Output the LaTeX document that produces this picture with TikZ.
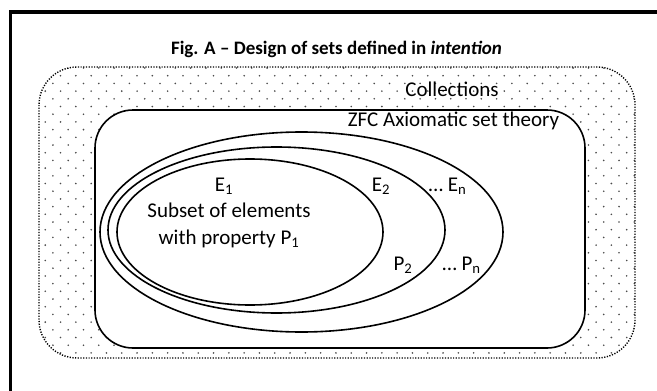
\documentclass[tikz,border=0pt]{standalone}
\usepackage{fontspec}
\setmainfont{Carlito}
\usepackage{tikz}

\begin{document}
\begin{tikzpicture}[x=1pt, y=-1pt]
	\tikzset{
		settext/.style={font=\fontsize{21}{27}\selectfont, inner sep=0pt},
		setline/.style={line width=1.6pt}
	}

	\useasboundingbox (0,0) rectangle (657,391);
	\fill [white] (0,0) rectangle (657,391);

	% frame
	\draw [line width=3.5pt] (10.5,391) -- (10.5,12) -- (657,12);

	% collections, dotted
	\begin{scope}
		\clip [rounded corners=38pt] (39,67) rectangle (635,358);
		\foreach \r in {0,...,38} {
			\pgfmathsetmacro{\yy}{68+7.7*\r}
			\pgfmathsetmacro{\xo}{mod(\r,2)*7.65}
			\foreach \c in {0,...,39} {
				\fill [black!70] ({37.6+\xo+15.3*\c}, \yy) circle (0.9);
			}
		}
	\end{scope}
	\draw [line width=1.4pt, dash pattern=on 1.2pt off 1.5pt, rounded corners=38pt] (39,67) rectangle (635,358);

	% ZFC
	\draw [setline, fill=white, rounded corners=38pt] (95,110) rectangle (585,348);

	% sets
	\draw [setline] (301.5,232) ellipse [x radius=201.5, y radius=100];
	\draw [setline] (276.5,230) ellipse [x radius=168.5, y radius=83];
	\draw [setline] (250,232) ellipse [x radius=133, y radius=73];

	\node [font=\fontsize{19}{23}\selectfont\bfseries, inner sep=0pt] (title) at (336.5,49) {Fig. A -- Design of sets defined in \textit{intention}};
	\node [settext] (coll) at (452,89) {Collections};
	\node [settext] (zfc) at (453.5,121) {ZFC Axiomatic set theory};
	\node [settext] (e1) at (224,186) {E\textsubscript{1}};
	\node [settext, align=center] (p1) at (229,225) {Subset of elements\\ with property P\textsubscript{1}};
	\node [settext] (e2) at (381,186) {E\textsubscript{2}};
	\node [settext] (en) at (447.5,186) {… E\textsubscript{n}};
	\node [settext] (p2) at (403,265) {P\textsubscript{2}};
	\node [settext] (pn) at (461.5,265) {… P\textsubscript{n}};
\end{tikzpicture}
\end{document}
